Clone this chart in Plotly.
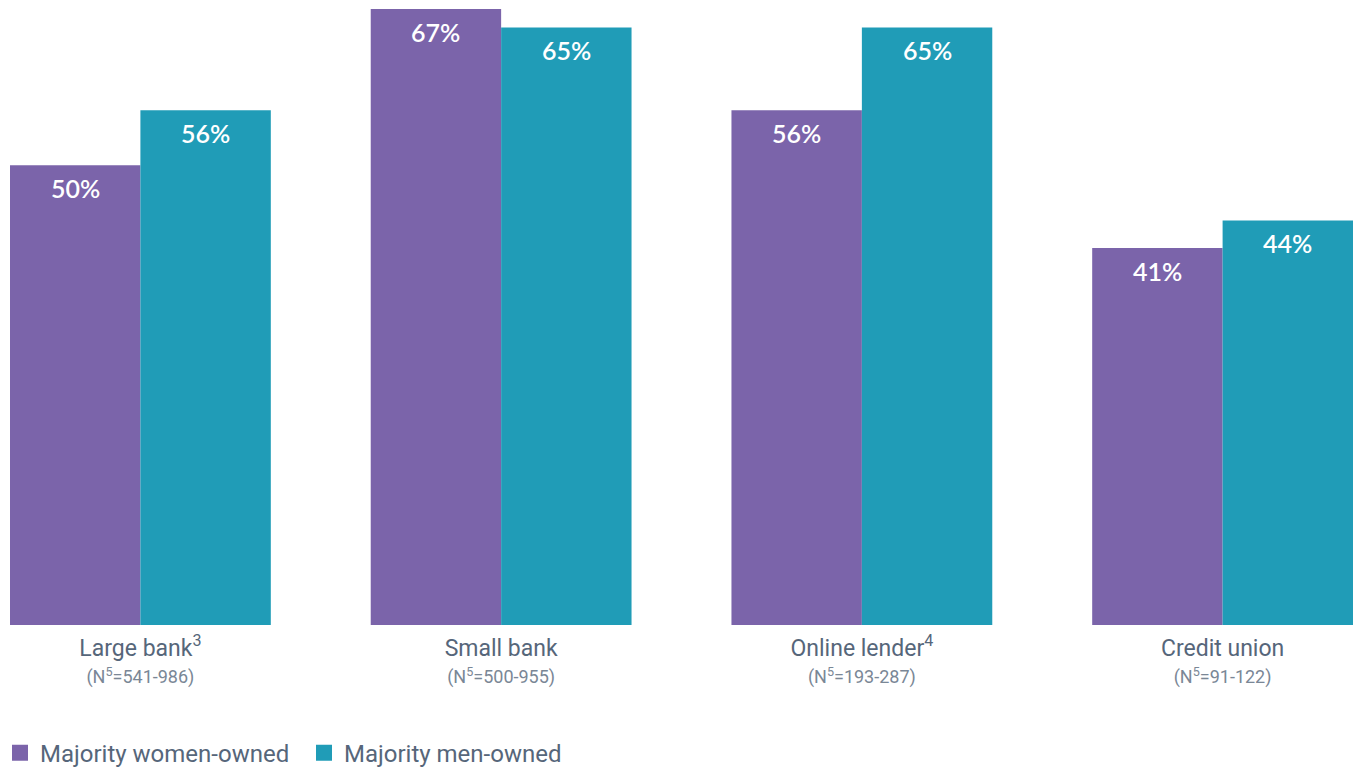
import plotly.graph_objects as go

# data
categories = ["Large bank", "Small bank", "Online lender", "Credit union"]
footnotes = ["3", "", "4", ""]
sample_sizes = ["541-986", "500-955", "193-287", "91-122"]
women_owned = [50, 67, 56, 41]
men_owned = [56, 65, 65, 44]

PURPLE = "#7b64aa"
TEAL = "#209cb7"
GREY = "#56667a"
LIGHT_GREY = "#7a8796"
BARGAP = 0.277

tick_text = []
for cat, fn, n in zip(categories, footnotes, sample_sizes):
    top = (f"<span style='font-size:23px'>{cat}"
           + (f"<sup>{fn}</sup>" if fn else "") + "</span>")
    bottom = (f"<span style='font-size:18px;color:{LIGHT_GREY}'>"
              f"(N<sup>5</sup>={n})</span>")
    tick_text.append(top + "<br>" + bottom)

x = list(range(len(categories)))
half = (1 - BARGAP) / 4  # centre offset of each bar inside a group

fig = go.Figure()
series = [("Majority women-owned", women_owned, PURPLE, -half),
          ("Majority men-owned", men_owned, TEAL, half)]
for name, vals, col, off in series:
    fig.add_trace(go.Bar(
        x=x, y=vals, name=name, marker=dict(color=col, line=dict(width=0)),
        showlegend=False, hoverinfo="x+y",
    ))
    # square legend swatch
    fig.add_trace(go.Scatter(
        x=[None], y=[None], mode="markers", name=name,
        marker=dict(symbol="square", size=22, color=col),
    ))
    # value labels just inside the top of each bar
    for xi, v in zip(x, vals):
        fig.add_annotation(
            x=xi + off, y=v, xref="x", yref="y", text=f"{v}%",
            showarrow=False, yanchor="top", yshift=-6,
            font=dict(family="Lato", size=25, color="white", weight=600),
        )

fig.update_layout(
    width=1353, height=770,
    margin=dict(l=10, r=0, t=9, b=145),
    plot_bgcolor="white", paper_bgcolor="white",
    barmode="group", bargap=BARGAP, bargroupgap=0,
    xaxis=dict(
        range=[-0.3615, 3.3615], tickvals=x, ticktext=tick_text,
        showgrid=False, zeroline=False, showline=False, ticks="",
        tickfont=dict(family="Roboto", size=21, color=GREY),
        ticklabelstandoff=9,
    ),
    yaxis=dict(range=[0, 67], visible=False),
    legend=dict(
        orientation="h", xref="container", yref="container",
        x=0, xanchor="left", y=0.022, yanchor="middle",
        font=dict(family="Roboto", size=24, color=GREY),
        itemsizing="trace", entrywidth=259,
    ),
)

# drop the default body margin so the figure fills the window exactly
fig.write_html("out.html", config={"displayModeBar": False},
               post_script="document.body.style.margin='0';")
